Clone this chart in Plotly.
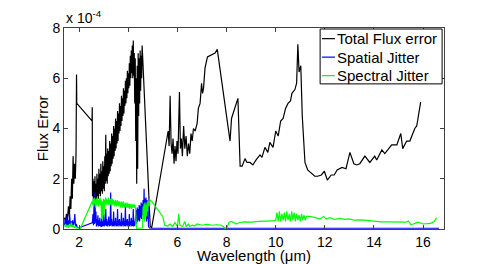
import plotly.graph_objects as go

# ---- data (wavelength in um, flux error in units of 1e-4) ----
total_flux_error = [
    (1.40, 0.45), (1.44, 0.30), (1.48, 0.60), (1.52, 0.35), (1.56, 0.90), (1.60, 0.50),
    (1.63, 1.30), (1.66, 0.80), (1.69, 2.00), (1.72, 1.20), (1.75, 2.90), (1.78, 1.80),
    (1.81, 2.60), (1.84, 2.00), (1.87, 3.00), (1.89, 6.15), (1.90, 5.00), (2.52, 4.30),
    (2.53, 4.85),
    (2.54, 1.30), (2.56, 2.00), (2.58, 1.10), (2.60, 1.90), (2.62, 1.00), (2.64, 2.10),
    (2.66, 1.20), (2.68, 1.80), (2.70, 1.10), (2.72, 2.20), (2.74, 1.30), (2.76, 2.00),
    (2.78, 1.20), (2.80, 2.40), (2.82, 1.40), (2.84, 2.20), (2.86, 1.30), (2.88, 2.60),
    (2.90, 1.50), (2.92, 2.30), (2.94, 1.40), (2.96, 2.70), (2.98, 1.60), (3.00, 2.50),
    (3.02, 1.50), (3.04, 2.90), (3.06, 1.80), (3.08, 3.75), (3.10, 1.90), (3.12, 3.00),
    (3.14, 1.80), (3.16, 3.20), (3.18, 2.10), (3.20, 3.10), (3.22, 2.20), (3.24, 3.50),
    (3.26, 2.30), (3.28, 3.40), (3.30, 2.50), (3.32, 3.80), (3.34, 2.60), (3.36, 3.70),
    (3.38, 2.80), (3.40, 4.10), (3.42, 2.90), (3.44, 4.00), (3.46, 3.10), (3.48, 4.40),
    (3.50, 3.20), (3.52, 4.30), (3.54, 3.40), (3.56, 4.70), (3.58, 3.50), (3.60, 4.60),
    (3.62, 3.80), (3.64, 5.00), (3.66, 3.90), (3.68, 4.90), (3.70, 4.10), (3.72, 5.30),
    (3.74, 4.30), (3.76, 5.20), (3.78, 4.50), (3.80, 5.60), (3.82, 4.60), (3.84, 5.50),
    (3.86, 4.90), (3.88, 5.90), (3.90, 5.00), (3.92, 6.00), (3.94, 5.20), (3.96, 6.30),
    (3.98, 5.40), (4.00, 6.20), (4.02, 5.60), (4.04, 6.60), (4.06, 5.70), (4.08, 6.90),
    (4.10, 6.00), (4.12, 7.10), (4.14, 6.20), (4.16, 7.30), (4.18, 6.00), (4.20, 7.50),
    (4.22, 6.10), (4.24, 7.00), (4.26, 5.00), (4.28, 6.80), (4.30, 3.50), (4.32, 6.00),
    (4.34, 1.80), (4.36, 6.50), (4.38, 2.40), (4.40, 7.00), (4.42, 4.50), (4.44, 6.80),
    (4.46, 5.00), (4.48, 7.10), (4.50, 5.50), (4.52, 6.90), (4.54, 6.00), (4.56, 7.30),
    (4.58, 6.90), (4.89, 0.10), (4.95, 0.05),
    (5.62, 3.90), (5.66, 3.30), (5.70, 5.30), (5.74, 3.40), (5.78, 3.00), (5.82, 3.60),
    (5.86, 2.60), (5.90, 3.30), (5.94, 2.70), (5.98, 3.50), (6.02, 3.00), (6.08, 5.45),
    (6.12, 3.20), (6.16, 3.60), (6.20, 2.90), (6.25, 4.10), (6.30, 3.20), (6.35, 3.70),
    (6.40, 2.90), (6.45, 3.40), (6.50, 3.00), (6.55, 3.80), (6.60, 3.50), (6.65, 4.00),
    (6.72, 3.90), (6.80, 4.20), (6.85, 4.80), (6.92, 5.00), (6.98, 5.80), (7.02, 5.40),
    (7.06, 5.60), (7.12, 6.40), (7.22, 6.85), (7.53, 7.00), (7.62, 7.15), (8.14, 3.50),
    (8.20, 4.40), (8.30, 4.70), (8.46, 5.20), (8.55, 2.50), (8.63, 2.50), (8.75, 2.80),
    (8.83, 2.65), (8.95, 2.65), (9.07, 2.55), (9.20, 2.75), (9.36, 2.95), (9.44, 2.85),
    (9.56, 3.25), (9.68, 3.05), (9.76, 3.45), (9.89, 3.25), (10.00, 3.90), (10.10, 3.70),
    (10.20, 4.30), (10.30, 4.40), (10.40, 4.80), (10.50, 5.00), (10.60, 5.10), (10.66, 5.40),
    (10.78, 5.55), (10.85, 5.80), (10.90, 7.35), (10.95, 6.25), (11.02, 6.50), (11.08, 4.50),
    (11.19, 2.65), (11.30, 2.35), (11.45, 2.20), (11.59, 2.10), (11.70, 2.10), (11.86, 2.15),
    (11.98, 2.30), (12.10, 1.95), (12.26, 2.15), (12.38, 2.15), (12.50, 2.35), (12.70, 2.45),
    (12.86, 2.40), (13.02, 3.05), (13.18, 2.60), (13.30, 2.55), (13.42, 2.60), (13.63, 2.90),
    (13.83, 2.65), (14.03, 2.90), (14.11, 2.75), (14.32, 3.15), (14.44, 3.00), (14.72, 3.35),
    (14.93, 3.35), (15.09, 3.80), (15.17, 3.20), (15.33, 3.50), (15.46, 3.50), (15.66, 4.00),
    (15.74, 4.10), (15.90, 5.05),
]

spatial_jitter = [
    (1.40, 0.15), (1.43, 0.40), (1.46, 0.10), (1.49, 0.50), (1.52, 0.15), (1.55, 0.35),
    (1.58, 0.10), (1.61, 0.60), (1.64, 0.15), (1.67, 0.30), (1.70, 0.10), (1.73, 0.35),
    (1.76, 0.12), (1.79, 0.25), (1.82, 0.60), (1.85, 0.10), (1.88, 0.20), (1.92, 0.06),
    (2.00, 0.05), (2.53, 0.25),
    (2.54, 0.30), (2.56, 0.60), (2.58, 0.15), (2.60, 0.90), (2.62, 0.20), (2.64, 1.45),
    (2.66, 0.25), (2.68, 0.70), (2.70, 0.10), (2.72, 0.40), (2.74, 0.15), (2.76, 0.55),
    (2.78, 0.10), (2.80, 0.35), (2.82, 0.12), (2.84, 0.45), (2.86, 0.10), (2.88, 0.30),
    (2.90, 0.08), (2.92, 0.50), (2.94, 0.10), (2.96, 0.30), (2.98, 0.12), (3.00, 0.60),
    (3.02, 0.10), (3.04, 0.35), (3.06, 0.15), (3.08, 0.80), (3.10, 0.12), (3.12, 0.40),
    (3.14, 0.10), (3.16, 0.30), (3.18, 0.15), (3.20, 0.50), (3.22, 0.10), (3.24, 0.35),
    (3.26, 0.12), (3.28, 1.45), (3.30, 0.15), (3.32, 0.40), (3.34, 0.10), (3.36, 0.30),
    (3.38, 0.12), (3.40, 0.70), (3.42, 0.10), (3.44, 0.30), (3.46, 0.15), (3.48, 0.45),
    (3.50, 0.10), (3.52, 0.30), (3.54, 0.12), (3.56, 0.80), (3.58, 0.10), (3.60, 0.35),
    (3.62, 0.15), (3.64, 0.40), (3.66, 0.10), (3.68, 0.30), (3.70, 0.12), (3.72, 0.65),
    (3.74, 0.10), (3.76, 0.30), (3.78, 0.15), (3.80, 0.45), (3.82, 0.10), (3.84, 0.30),
    (3.86, 0.12), (3.88, 0.90), (3.90, 0.10), (3.92, 0.35), (3.94, 0.15), (3.96, 0.40),
    (3.98, 0.10), (4.00, 0.30), (4.02, 0.12), (4.04, 0.60), (4.06, 0.10), (4.08, 0.30),
    (4.10, 0.15), (4.12, 0.45), (4.14, 0.10), (4.16, 0.35), (4.18, 0.12), (4.20, 0.80),
    (4.22, 0.10), (4.24, 0.30), (4.26, 0.12), (4.28, 0.40),
    (4.30, 0.30), (4.32, 0.75), (4.34, 0.20), (4.36, 0.85), (4.38, 0.30), (4.40, 0.80),
    (4.42, 0.35), (4.44, 0.95), (4.46, 0.30), (4.48, 0.90), (4.50, 0.45), (4.52, 1.05),
    (4.54, 0.40), (4.56, 1.00), (4.58, 0.55), (4.60, 1.15), (4.62, 0.50), (4.64, 1.60),
    (4.66, 0.40), (4.68, 1.20), (4.70, 0.60), (4.72, 1.25), (4.74, 0.30), (4.76, 1.15),
    (4.78, 0.40), (4.80, 1.00), (4.82, 0.10), (4.86, 0.04),
    (5.00, 0.03), (6.00, 0.03), (8.00, 0.03), (10.00, 0.03), (12.00, 0.03),
    (14.00, 0.03), (16.65, 0.03),
]

spectral_jitter = [
    (1.40, 0.10), (1.44, 0.20), (1.48, 0.08), (1.52, 0.15), (1.56, 0.05), (1.60, 0.20),
    (1.64, 0.10), (1.68, 0.25), (1.72, 0.08), (1.76, 0.15), (1.80, 0.05), (1.84, 0.12),
    (1.88, 0.04), (1.95, 0.05), (2.05, 0.03), (2.53, 1.10),
    (2.55, 0.95), (2.57, 1.20), (2.59, 0.90), (2.61, 1.25), (2.63, 1.00), (2.65, 1.15),
    (2.67, 0.85), (2.69, 1.20), (2.71, 0.95), (2.73, 1.25), (2.75, 1.00), (2.77, 1.15),
    (2.79, 0.90), (2.81, 1.20), (2.83, 1.00), (2.85, 1.25), (2.87, 0.95), (2.89, 1.15),
    (2.91, 0.40), (2.93, 1.10), (2.95, 0.35), (2.97, 1.00), (2.99, 1.20), (3.01, 0.55),
    (3.03, 1.15), (3.05, 0.95), (3.07, 1.25), (3.09, 1.00), (3.11, 1.20), (3.13, 0.95),
    (3.15, 1.15), (3.17, 1.00), (3.19, 1.25), (3.21, 0.95), (3.23, 1.15), (3.25, 1.00),
    (3.27, 1.20), (3.29, 0.95), (3.31, 1.15), (3.33, 1.00), (3.35, 1.20), (3.37, 0.95),
    (3.39, 1.15), (3.41, 1.00), (3.43, 1.10), (3.45, 0.90), (3.47, 1.15), (3.49, 0.95),
    (3.51, 1.10), (3.53, 0.90), (3.55, 1.15), (3.57, 0.95), (3.59, 1.10), (3.61, 0.90),
    (3.63, 1.10), (3.65, 0.95), (3.67, 1.05), (3.69, 0.85), (3.71, 1.10), (3.73, 0.90),
    (3.75, 1.05), (3.77, 0.85), (3.79, 1.10), (3.81, 0.90), (3.83, 1.00), (3.85, 0.85),
    (3.87, 1.05), (3.89, 0.90), (3.91, 1.00), (3.93, 0.85), (3.95, 1.05), (3.97, 0.85),
    (3.99, 1.00), (4.01, 0.85), (4.03, 1.00), (4.05, 0.80), (4.07, 1.00), (4.09, 0.85),
    (4.11, 0.95), (4.13, 0.80), (4.15, 1.00), (4.17, 0.85), (4.19, 0.95), (4.21, 0.85),
    (4.23, 1.00), (4.25, 0.85), (4.27, 0.95), (4.29, 0.80), (4.31, 0.10), (4.33, 0.03),
    (4.45, 0.03), (4.58, 0.05), (4.60, 0.90), (4.62, 0.40), (4.64, 1.00), (4.66, 0.30),
    (4.68, 1.05), (4.70, 0.60), (4.72, 0.95), (4.74, 0.50), (4.76, 1.05), (4.78, 0.70),
    (4.80, 1.10), (4.84, 0.90), (4.88, 1.15), (4.95, 1.10), (5.40, 0.50), (5.48, 0.15),
    (5.60, 0.12), (5.70, 0.20), (5.80, 0.10), (5.90, 0.25), (6.00, 0.10), (6.05, 0.60),
    (6.10, 0.15), (6.20, 0.10), (6.30, 0.30), (6.35, 0.10), (6.45, 0.20), (6.50, 0.10),
    (6.60, 0.15), (6.70, 0.12), (6.80, 0.20), (7.00, 0.15), (7.20, 0.18), (7.40, 0.15),
    (7.60, 0.17), (7.80, 0.15), (7.95, 0.02), (8.00, 0.02), (8.10, 0.27), (8.20, 0.30),
    (8.40, 0.20), (8.50, 0.25), (8.70, 0.28), (9.00, 0.27), (9.30, 0.30), (9.60, 0.30),
    (9.90, 0.32), (10.00, 0.35),
    (10.05, 0.65), (10.10, 0.30), (10.15, 0.70), (10.20, 0.30), (10.25, 0.60), (10.30, 0.35),
    (10.35, 0.65), (10.40, 0.30), (10.45, 0.70), (10.50, 0.35), (10.55, 0.60), (10.60, 0.30),
    (10.65, 0.70), (10.70, 0.35), (10.75, 0.65), (10.80, 0.30), (10.85, 0.60), (10.90, 0.35),
    (10.95, 0.55), (11.00, 0.30), (11.05, 0.60), (11.10, 0.35), (11.15, 0.55), (11.20, 0.35),
    (11.25, 0.50), (11.40, 0.50), (11.60, 0.45), (11.80, 0.40), (11.95, 0.50), (12.05, 0.40),
    (12.20, 0.45), (12.40, 0.38), (12.60, 0.42), (12.80, 0.38), (13.00, 0.40), (13.20, 0.35),
    (13.50, 0.36), (13.80, 0.32), (14.00, 0.30), (14.30, 0.28), (14.60, 0.28), (15.00, 0.27),
    (15.30, 0.27), (15.40, 0.32), (15.50, 0.18), (15.60, 0.20), (15.80, 0.27), (16.00, 0.20),
    (16.30, 0.22), (16.45, 0.30), (16.55, 0.45),
]

x_ticks = [2, 4, 6, 8, 10, 12, 14, 16]
y_ticks = [0, 2, 4, 6, 8]
series_names = ["Total Flux error", "Spatial Jitter", "Spectral Jitter"]
series_colors = ["#000000", "#0000ff", "#00ff00"]

FONT = "Liberation Sans, Arial, Helvetica, sans-serif"
AX = "#404040"

fig = go.Figure()
for data, name, color in zip([total_flux_error, spatial_jitter, spectral_jitter],
                             series_names, series_colors):
    fig.add_trace(go.Scatter(
        x=[p[0] for p in data], y=[p[1] for p in data], mode="lines", name=name,
        line=dict(color=color, width=1.2), showlegend=False))

axis_common = dict(showline=True, linecolor=AX, linewidth=1, mirror="ticks",
                   ticks="inside", ticklen=4, tickcolor=AX, showgrid=False,
                   zeroline=False, tickfont=dict(family=FONT, size=14, color="#000"))

fig.update_xaxes(range=[1.38, 16.85], tickvals=x_ticks, **axis_common)
fig.update_yaxes(range=[0, 8], tickvals=y_ticks, **axis_common)

# Custom legend (MATLAB style)
leg_x0, leg_x1 = 0.674, 0.995
leg_y0, leg_y1 = 0.722, 0.995
shapes = [dict(type="rect", xref="paper", yref="paper", x0=leg_x0, x1=leg_x1,
               y0=leg_y0, y1=leg_y1, line=dict(color="#000", width=1), fillcolor="white",
               layer="above")]
annotations = []
row_y = [0.947, 0.855, 0.763]
for name, color, ry in zip(series_names, series_colors, row_y):
    shapes.append(dict(type="line", xref="paper", yref="paper", x0=0.679, x1=0.713,
                       y0=ry, y1=ry, line=dict(color=color, width=1.2), layer="above"))
    annotations.append(dict(xref="paper", yref="paper", x=0.714, y=ry, text=name,
                            xanchor="left", yanchor="middle", showarrow=False,
                            font=dict(family=FONT, size=15, color="#000")))

annotations += [
    dict(xref="paper", yref="paper", x=0.0, y=1.0, text="x 10<sup>-4</sup>",
         xanchor="left", yanchor="bottom", showarrow=False,
         font=dict(family=FONT, size=14, color="#000")),
    dict(xref="paper", yref="paper", x=0.5, y=-0.133, text="Wavelength (\u03bcm)",
         xanchor="center", yanchor="middle", showarrow=False,
         font=dict(family=FONT, size=15, color="#000")),
    dict(xref="paper", yref="paper", x=-0.056, y=0.5, text="Flux Error", textangle=-90,
         xanchor="center", yanchor="middle", showarrow=False,
         font=dict(family=FONT, size=15, color="#000")),
]

# page body has an 8px margin: size/margins chosen so the plot area lands at
# x 64..444, y 22..229 in the 491x264 window
fig.update_layout(width=483, height=256, margin=dict(l=56, r=47, t=14, b=35),
                  paper_bgcolor="white", plot_bgcolor="white",
                  shapes=shapes, annotations=annotations, showlegend=False)

fig.write_html("out.html")
